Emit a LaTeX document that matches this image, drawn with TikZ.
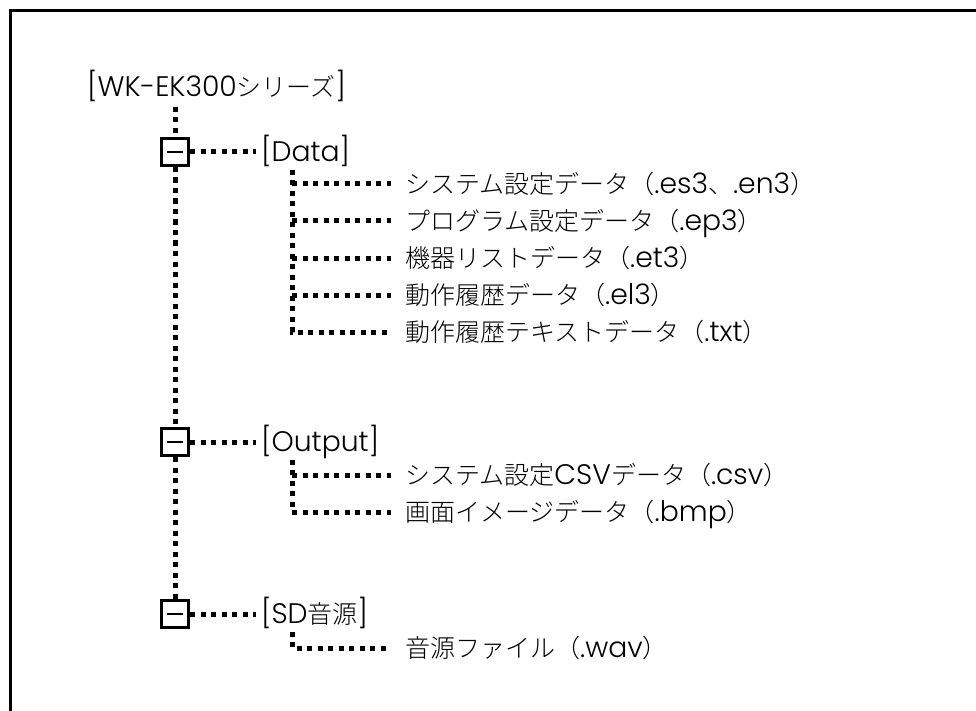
\documentclass[tikz,border=0pt]{standalone}
\usepackage{fontspec}
\IfFontExistsTF{Noto Sans CJK JP Light}
  {\setmainfont{Noto Sans CJK JP Light}}{\setmainfont{Noto Sans CJK JP}}
\IfFontExistsTF{Poppins Light}
  {\newfontfamily\enf{Poppins Light}[Scale=1.13]}{\newfontfamily\enf{DejaVu Sans}}
\usetikzlibrary{positioning}

\begin{document}
\begin{tikzpicture}[x=1pt,y=-1pt,
  dotline/.style={line width=5pt,dash pattern=on 5.2pt off 5.3pt},
  fold/.style={draw,line width=3pt,minimum size=27pt,inner sep=0pt},
  lbl/.style={anchor=west,inner sep=0pt,text height=22pt,text depth=3pt,font=\fontsize{25}{30}\selectfont}]
  \useasboundingbox (0,0) rectangle (976,711);
  \draw[line width=3pt] (10,711) |- (976,11);

  \node[lbl] (root) at (87,87) {{\enf [WK-EK300}シリーズ{\enf ]}};
  % folders
  \node[fold] (bData) at (175,152) {};
  \node[fold] (bOut) at (175,442) {};
  \node[fold] (bSD) at (175,614) {};
  \foreach \b in {bData,bOut,bSD}
    \draw[line width=2.2pt] ([xshift=-8pt]\b.center) -- ([xshift=8pt]\b.center);
  \node[lbl] (fData) at (261,152) {\enf [Data]};
  \node[lbl] (fOut) at (261,442) {\enf [Output]};
  \node[lbl] (fSD) at (261,614) {{\enf [SD}音源{\enf ]}};
  % files
  \node[lbl] (d1) at (405,184) {システム設定データ（{\enf .es3}、{\enf .en3}）};
  \node[lbl] (d2) at (405,221) {プログラム設定データ（{\enf .ep3}）};
  \node[lbl] (d3) at (405,258) {機器リストデータ（{\enf .et3}）};
  \node[lbl] (d4) at (405,295) {動作履歴データ（{\enf .el3}）};
  \node[lbl] (d5) at (405,332) {動作履歴テキストデータ（{\enf .txt}）};
  \node[lbl] (o1) at (405,475) {システム設定{\enf CSV}データ（{\enf .csv}）};
  \node[lbl] (o2) at (405,512) {画面イメージデータ（{\enf .bmp}）};
  \node[lbl] (s1) at (405,648) {音源ファイル（{\enf .wav}）};

  % tree lines
  \draw[dotline,shorten <=7pt] (root.south -| bData) -- (bData);
  \draw[dotline] (bData) -- (bOut);
  \draw[dotline] (bOut) -- (bSD);
  \foreach \b/\f in {bData/fData,bOut/fOut,bSD/fSD}
    \draw[dotline,shorten >=5pt] (\b) -- (\f);
  \coordinate (tData) at ([xshift=31pt]fData.south west);
  \coordinate (tOut) at ([xshift=31pt]fOut.south west);
  \coordinate (tSD) at ([xshift=31pt]fSD.south west);
  \draw[dotline,shorten <=5pt,shorten >=14pt] (tData) |- (d5.west);
  \foreach \i in {1,...,4}
    \draw[dotline,shorten >=14pt] (tData |- d\i) -- (d\i.west);
  \draw[dotline,shorten <=5pt,shorten >=14pt] (tOut) |- (o2.west);
  \draw[dotline,shorten >=14pt] (tOut |- o1) -- (o1.west);
  \draw[dotline,shorten <=5pt,shorten >=14pt] (tSD) |- (s1.west);
\end{tikzpicture}
\end{document}
